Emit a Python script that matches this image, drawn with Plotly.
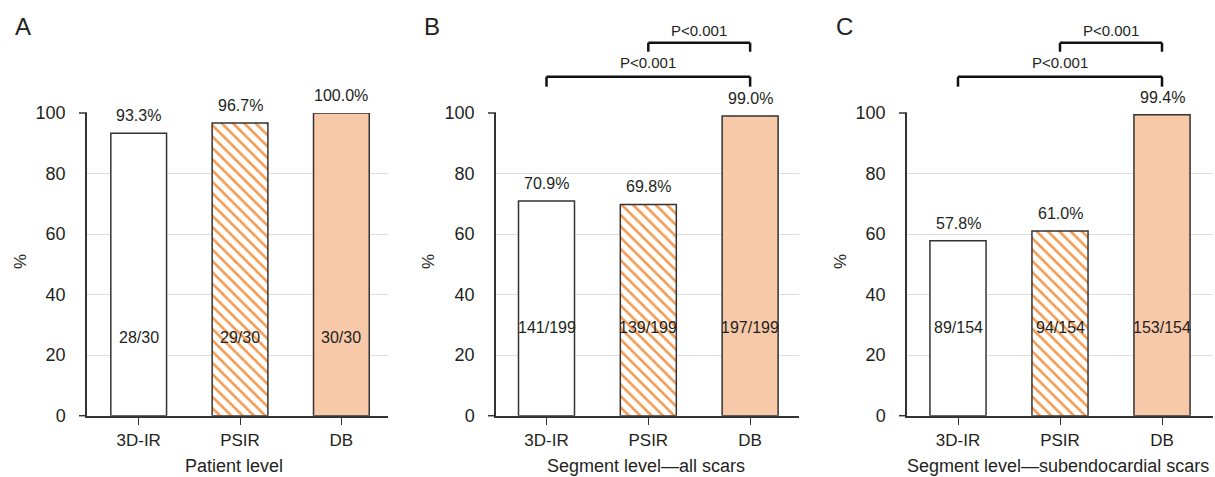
import plotly.graph_objects as go

# ---------------- data ----------------
categories = ["3D-IR", "PSIR", "DB"]

pct_A = [93.3, 96.7, 100.0]
frac_A = ["28/30", "29/30", "30/30"]

pct_B = [70.9, 69.8, 99.0]
frac_B = ["141/199", "139/199", "197/199"]

pct_C = [57.8, 61.0, 99.4]
frac_C = ["89/154", "94/154", "153/154"]

panel_letters = ["A", "B", "C"]
x_titles = ["Patient level", "Segment level\u2014all scars", "Segment level\u2014subendocardial scars"]
y_title = "%"
y_ticks = [0, 20, 40, 60, 80, 100]

# comparisons (from category index, to category index, label)
comparisons_B = [(0, 2, "P<0.001"), (1, 2, "P<0.001")]
comparisons_C = [(0, 2, "P<0.001"), (1, 2, "P<0.001")]

# ---------------- style ----------------
W, H = 1215, 477
FONT = "Liberation Sans, Arial, sans-serif"
TXT = "#231f20"
AX = "#333333"
GRID = "#dedede"
PEACH = "#f8c9a9"
ORANGE = "#f39a50"

fill_colors = ["white", "white", PEACH]
pattern_shapes = ["", "\\", ""]

domains = [(87, 388), (496, 799), (907, 1213)]
xranges = [(-0.51, 2.46), (-0.496, 2.48), (-0.5, 2.5)]
y_top_px, y_bot_px = 113.0, 415.7
frac_y = [26, 29, 29]

panels = [
    (pct_A, frac_A, []),
    (pct_B, frac_B, comparisons_B),
    (pct_C, frac_C, comparisons_C),
]


def py(p):
    return 1 - p / H


def px(p):
    return p / W


fig = go.Figure()
annotations = []
shapes = []

for i, (pcts, fracs, comps) in enumerate(panels):
    n = "" if i == 0 else str(i + 1)
    xa, ya = "x" + n, "y" + n
    xkey, ykey = "xaxis" + n, "yaxis" + n
    xpos = list(range(len(categories)))

    for xi, v, col, shp in zip(xpos, pcts, fill_colors, pattern_shapes):
        marker = dict(color=col, line=dict(color=AX, width=1.5))
        if shp:
            marker["pattern"] = dict(shape=shp, fgcolor=ORANGE, bgcolor="white",
                                     size=8, solidity=0.32, fillmode="replace")
        fig.add_trace(go.Bar(
            x=[xi], y=[v], width=0.55, xaxis=xa, yaxis=ya,
            marker=marker, showlegend=False, hoverinfo="skip",
        ))

    d0, d1 = domains[i]
    fig.layout[xkey] = dict(
        domain=[px(d0), px(d1)], range=list(xranges[i]), anchor=ya,
        tickvals=xpos, ticktext=categories, ticks="outside", ticklen=8,
        tickcolor=AX, tickwidth=1.2, showline=True, linecolor=AX, linewidth=1.5,
        showgrid=False, zeroline=False, automargin=False,
        tickfont=dict(family=FONT, size=17, color=TXT), fixedrange=True,
    )
    fig.layout[ykey] = dict(
        domain=[py(y_bot_px), py(y_top_px)], range=[0, 100], anchor=xa,
        tickvals=y_ticks, ticks="", showline=True, linecolor=AX, linewidth=1.5,
        showgrid=True, gridcolor=GRID, gridwidth=1, zeroline=False,
        automargin=False, ticklabelstandoff=16,
        tickfont=dict(family=FONT, size=18, color=TXT), fixedrange=True,
    )

    # small end ticks of y axis at 0 and 100
    for yv in (0, 1):
        shapes.append(dict(type="line", xref=xa + " domain", yref=ya + " domain",
                           x0=-8 / (d1 - d0), x1=0, y0=yv, y1=yv,
                           line=dict(color=AX, width=1.5)))

    # value labels above bars
    for xi, v in zip(xpos, pcts):
        annotations.append(dict(x=xi, y=v, xref=xa, yref=ya, text=f"{v:.1f}%",
                                showarrow=False, yanchor="bottom", yshift=7,
                                font=dict(family=FONT, size=16, color=TXT)))
    # fraction labels inside bars
    for xi, f in zip(xpos, fracs):
        annotations.append(dict(x=xi, y=frac_y[i], xref=xa, yref=ya, text=f,
                                showarrow=False, yanchor="middle",
                                font=dict(family=FONT, size=16, color=TXT)))

    # comparison brackets (in y-domain units above the axis)
    levels = [(1.087, 1.120, 1.166), (1.2025, 1.232, 1.274)]
    for k, (a, b, label) in enumerate(comps):
        y_leg, y_bar, y_txt = levels[k]
        for (x0, y0, x1, y1) in [(a, y_leg, a, y_bar), (a, y_bar, b, y_bar), (b, y_bar, b, y_leg)]:
            shapes.append(dict(type="line", xref=xa, yref=ya + " domain",
                               x0=x0, x1=x1, y0=y0, y1=y1,
                               line=dict(color="#111111", width=2.5)))
        annotations.append(dict(x=(a + b) / 2, y=y_txt, xref=xa, yref=ya + " domain",
                                text=label, showarrow=False, yanchor="middle",
                                font=dict(family=FONT, size=15, color=TXT)))

    # axis titles
    annotations.append(dict(x=(px(d0) + px(d1)) / 2 - px(4 if i == 0 else 2), y=py(466),
                            xref="paper", yref="paper", text=x_titles[i],
                            showarrow=False, yanchor="middle", xanchor="center",
                            font=dict(family=FONT, size=18, color=TXT)))
    annotations.append(dict(x=px([20, 428, 840][i]), y=py(262), xref="paper", yref="paper",
                            text=y_title, showarrow=False, textangle=-90,
                            xanchor="center", yanchor="middle",
                            font=dict(family=FONT, size=17, color=TXT)))
    # panel letters
    annotations.append(dict(x=px([23, 432, 844][i]), y=py(27), xref="paper", yref="paper",
                            text=panel_letters[i], showarrow=False,
                            xanchor="center", yanchor="middle",
                            font=dict(family=FONT, size=24, color=TXT)))

fig.update_layout(
    width=W, height=H,
    margin=dict(l=0, r=0, t=0, b=0),
    paper_bgcolor="white", plot_bgcolor="white",
    annotations=annotations, shapes=shapes,
    barmode="overlay",
)

fig.write_html("out.html", config={"displayModeBar": False},
               post_script="document.body.style.margin='0';")
